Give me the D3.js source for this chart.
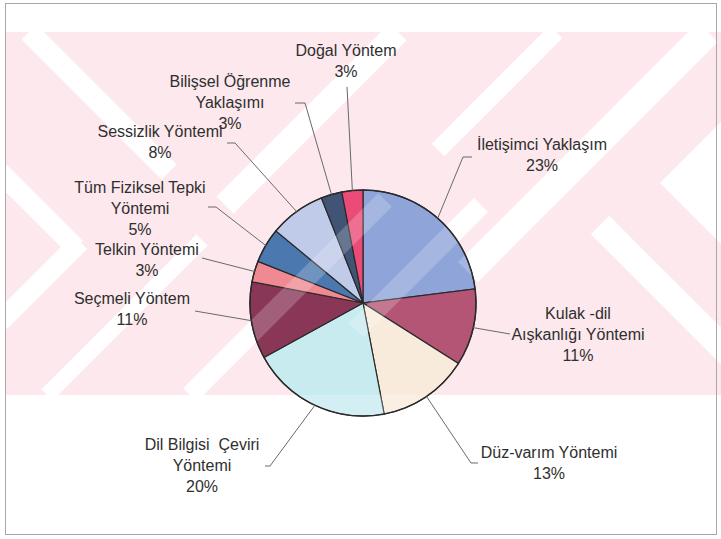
<!DOCTYPE html>
<html>
<head>
<meta charset="utf-8">
<style>
  body { margin: 0; background: #fff; }
  svg text { font-family: "Liberation Sans", Arial, sans-serif; font-size: 16px; fill: #2f2f2f; white-space: pre; }
</style>
</head>
<body>
<script src="https://d3js.org/d3.v7.min.js"></script>
<svg width="721" height="539" id="svg1"></svg>
<script>
// slices, clockwise from 12 o'clock
var labels = [
  ["İletişimci Yaklaşım"],
  ["Kulak -dil", "Aışkanlığı Yöntemi"],
  ["Düz-varım Yöntemi"],
  ["Dil Bilgisi  Çeviri", "Yöntemi"],
  ["Seçmeli Yöntem"],
  ["Telkin Yöntemi"],
  ["Tüm Fiziksel Tepki", "Yöntemi"],
  ["Sessizlik Yöntemi"],
  ["Bilişsel Öğrenme", "Yaklaşımı"],
  ["Doğal Yöntem"]
];
var values = [23, 11, 13, 20, 11, 3, 5, 8, 3, 3];
var colors = ["#8fa6da", "#b65676", "#f9ebdd", "#c9ecf0", "#8a3858",
              "#f08a93", "#4d79b1", "#c0cae9", "#425476", "#ec4b77"];

// label layout: centre x, first baseline y, leader bend points
var labelX = [542, 578, 549, 202, 132, 147, 140, 160, 230, 346];
var labelY = [150, 319, 458, 450, 304, 255, 193, 137, 87, 56];
var bends = [
  [[472, 157], [463, 157]],
  [[510, 334]],
  [[478, 463], [471, 463]],
  [[265, 466], [270, 466]],
  [[195, 311]],
  [[202, 258]],
  [[208, 207], [216, 207]],
  [[227, 143], [235, 143]],
  [[295, 103], [305, 103]],
  [[347, 87]]
];

var svg = d3.select("#svg1"),
    cx = 363, cy = 303, r = 113;

// scanned watermark behind the chart
var band = { x: 5, y: 32, w: 716, h: 363 };
var stripes = [
  { d: "\\", k: 3, y0: 32, y1: 172, w: 21 },
  { d: "\\", k: 172, y0: 172, y1: 248, w: 20 },
  { d: "/", k: 322, y0: 242, y1: 322, w: 20 },
  { d: "/", k: 430, y0: 32, y1: 205, w: 24 },
  { d: "/", k: 588, y0: 32, y1: 150, w: 18 },
  { d: "/", k: 740, y0: 32, y1: 272, w: 28 },
  { d: "/", k: 442, y0: 240, y1: 395, w: 16 },
  { d: "/", k: 585, y0: 200, y1: 395, w: 19 },
  { d: "/", k: 686, y0: 205, y1: 330, w: 20 },
  { d: "\\", k: -375, y0: 225, y1: 400, w: 26 }
];

var defs = svg.append("defs");
defs.append("clipPath").attr("id", "bandClip")
  .append("rect").attr("x", band.x).attr("y", band.y).attr("width", band.w).attr("height", band.h);
defs.append("clipPath").attr("id", "pieClip")
  .append("circle").attr("cx", cx).attr("cy", cy).attr("r", r);

function drawStripes(g) {
  var s = g.append("g").attr("clip-path", "url(#bandClip)");
  s.selectAll("line").data(stripes).enter().append("line")
    .attr("x1", function(d) { return d.d == "/" ? d.k - d.y0 : d.y0 - d.k; })
    .attr("y1", function(d) { return d.y0; })
    .attr("x2", function(d) { return d.d == "/" ? d.k - d.y1 : d.y1 - d.k; })
    .attr("y2", function(d) { return d.y1; })
    .attr("stroke", "#fff")
    .attr("stroke-width", function(d) { return d.w; });
  s.append("path").attr("d", "M660,183L721,122L721,244Z").attr("fill", "#fff");
}

svg.append("rect").attr("x", band.x).attr("y", band.y).attr("width", band.w).attr("height", band.h)
  .attr("fill", "#fce8ed");
drawStripes(svg.append("g"));

// pie
var pie = d3.pie().sort(null).value(function(d) { return d; });
var arc = d3.arc().innerRadius(0).outerRadius(r);
var arcs = pie(values);

var g = svg.append("g").attr("transform", "translate(" + cx + "," + cy + ")");
g.selectAll("path").data(arcs).enter().append("path")
  .attr("d", arc)
  .attr("fill", function(d, i) { return colors[i]; })
  .attr("stroke", "#2a2a2a")
  .attr("stroke-width", 1.2);

// lighter watermark bands showing through the pie
var tint = svg.append("g").attr("clip-path", "url(#pieClip)").style("opacity", 0.2);
drawStripes(tint);
tint.append("rect").attr("x", 0).attr("y", band.y + band.h).attr("width", 721).attr("height", 100)
  .attr("fill", "#fff");
svg.append("circle").attr("cx", cx).attr("cy", cy).attr("r", r)
  .attr("fill", "none").attr("stroke", "#2a2a2a").attr("stroke-width", 1.4);

// leader lines
var edge = d3.arc().innerRadius(r).outerRadius(r);
var line = d3.line();
svg.append("g").selectAll("path").data(arcs).enter().append("path")
  .attr("d", function(d, i) {
    var c = edge.centroid(d);
    return line(bends[i].concat([[cx + c[0], cy + c[1]]]));
  })
  .attr("fill", "none")
  .attr("stroke", "#6a6a6a")
  .attr("stroke-width", 1);

// labels
var lab = svg.append("g").selectAll("text").data(arcs).enter().append("text")
  .attr("text-anchor", "middle")
  .attr("x", function(d, i) { return labelX[i]; })
  .attr("y", function(d, i) { return labelY[i]; });
lab.each(function(d, i) {
  var t = d3.select(this);
  var rows = labels[i].concat([d.value + "%"]);
  rows.forEach(function(s, j) {
    t.append("tspan").attr("x", labelX[i]).attr("dy", j == 0 ? 0 : 21).text(s);
  });
});

// scan frame
svg.append("rect").attr("x", 5.5).attr("y", 3.5).attr("width", 711).attr("height", 531)
  .attr("fill", "none").attr("stroke", "#a8a8a8").attr("stroke-width", 1);
</script>
</body>
</html>
